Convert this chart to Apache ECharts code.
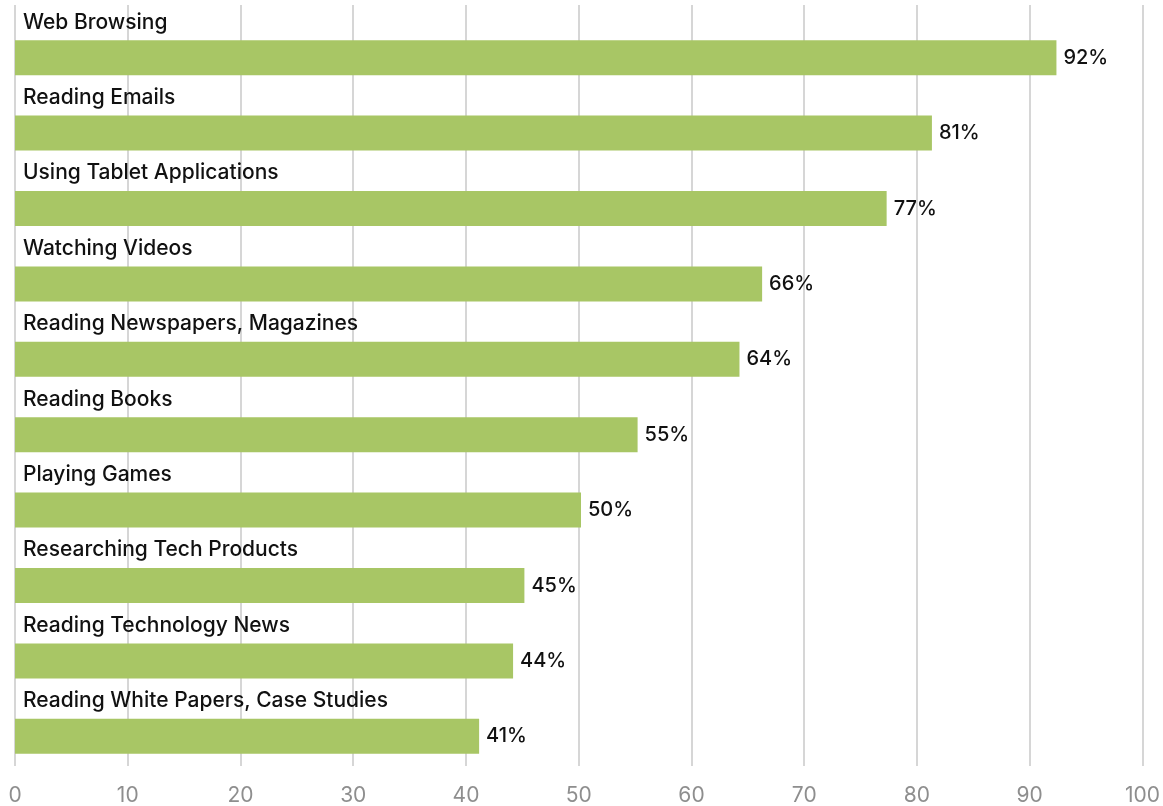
<!DOCTYPE html>
<html>
<head>
<meta charset="utf-8">
<script src="https://cdn.jsdelivr.net/npm/echarts@6/dist/echarts.min.js"></script>
<style>
  html, body { margin: 0; padding: 0; background: #fff; }
  #chart { width: 1163px; height: 806px; }
</style>
</head>
<body>
<div id="chart"></div>
<script>
// Activities, top to bottom
const categories = [
  'Web Browsing',
  'Reading Emails',
  'Using Tablet Applications',
  'Watching Videos',
  'Reading Newspapers, Magazines',
  'Reading Books',
  'Playing Games',
  'Researching Tech Products',
  'Reading Technology News',
  'Reading White Papers, Case Studies'
];
// Share of respondents (%)
const values = [92, 81, 77, 66, 64, 55, 50, 45, 44, 41];
// Value axis ticks
const tickValues = [0, 10, 20, 30, 40, 50, 60, 70, 80, 90, 100];

const FONT = 'Inter, "Liberation Sans", Arial, sans-serif';
const chart = echarts.init(document.getElementById('chart'), null, { renderer: 'canvas' });

chart.setOption({
  backgroundColor: '#ffffff',
  animation: false,
  grid: [
    // frame for the vertical grid lines and tick labels
    { left: 15, right: 16, top: 5, bottom: 40 },
    // frame for the bars
    { left: 15, right: 16, top: 20, bottom: 32 }
  ],
  xAxis: [
    {
      gridIndex: 0,
      type: 'value',
      min: tickValues[0],
      max: tickValues[tickValues.length - 1],
      interval: tickValues[1] - tickValues[0],
      axisLine: { show: false },
      axisTick: { show: false },
      splitLine: { show: true, lineStyle: { color: '#c8c8c8', width: 1.5 } },
      axisLabel: {
        margin: 19,
        color: '#8e8e8e',
        fontSize: 21,
        fontFamily: FONT
      }
    },
    {
      gridIndex: 1,
      type: 'value',
      min: tickValues[0],
      max: tickValues[tickValues.length - 1],
      show: false
    }
  ],
  yAxis: [
    {
      gridIndex: 0,
      type: 'category',
      data: categories,
      show: false
    },
    {
      gridIndex: 1,
      type: 'category',
      data: categories,
      inverse: true,
      show: false
    }
  ],
  series: [
    {
      name: 'share',
      type: 'bar',
      xAxisIndex: 1,
      yAxisIndex: 1,
      data: values,
      barWidth: 35,
      itemStyle: { color: '#a8c665' },
      label: {
        show: true,
        position: 'right',
        distance: 7,
        formatter: '{c}%',
        color: '#111111',
        fontSize: 20,
        fontWeight: 500,
        fontFamily: FONT
      }
    },
    {
      name: 'names',
      type: 'bar',
      xAxisIndex: 1,
      yAxisIndex: 1,
      data: values,
      barWidth: 35,
      barGap: '-100%',
      silent: true,
      itemStyle: { color: 'rgba(0,0,0,0)' },
      label: {
        show: true,
        position: [8, -18],
        verticalAlign: 'middle',
        align: 'left',
        formatter: '{b}',
        color: '#111111',
        fontSize: 21,
        fontWeight: 500,
        fontFamily: FONT
      }
    }
  ]
});
</script>
</body>
</html>
